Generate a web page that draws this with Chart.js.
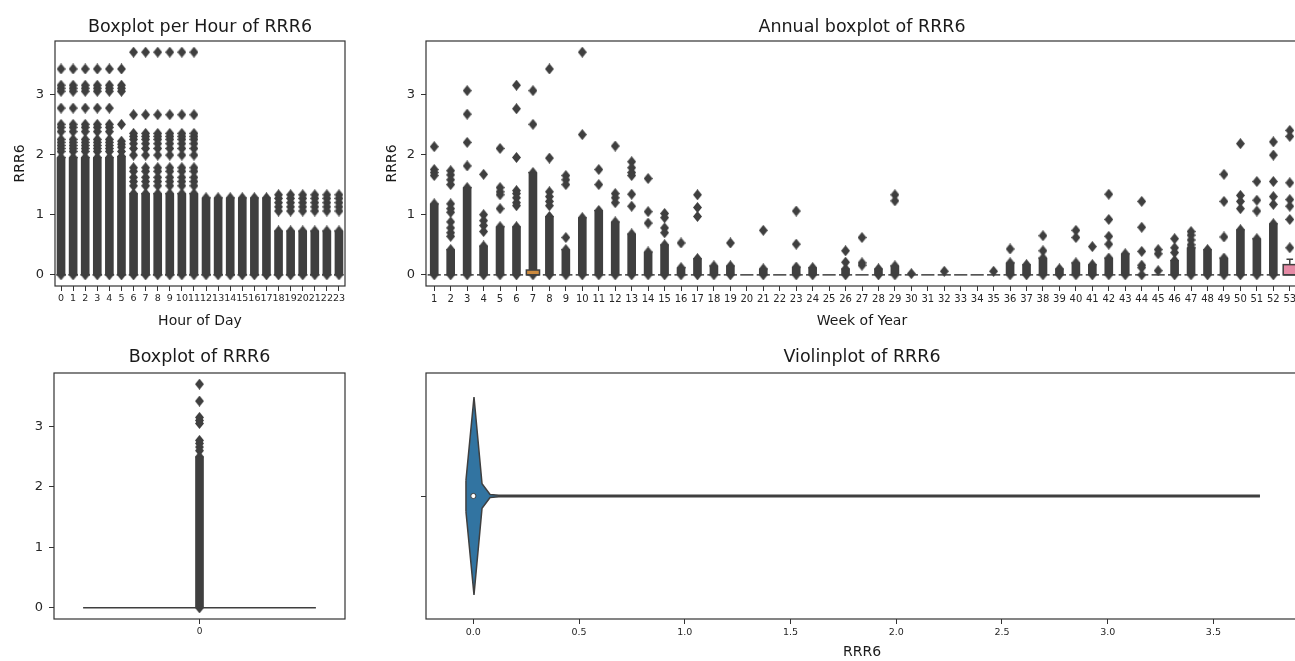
<!DOCTYPE html>
<html>
<head>
<meta charset="utf-8">
<script src="https://cdn.jsdelivr.net/npm/chart.js@4.4.1/dist/chart.umd.min.js"></script>
<style>
  html, body { margin: 0; padding: 0; background: #fff; overflow: hidden; }
  #wrap { position: relative; width: 1295px; height: 661px; overflow: hidden; }
  #wrap canvas { position: absolute; left: 0; top: 0; }
</style>
</head>
<body>
<div id="wrap">
  <canvas id="hourChart" width="1320" height="661"></canvas>
  <canvas id="weekChart" width="1320" height="661"></canvas>
  <canvas id="allChart" width="1320" height="661"></canvas>
  <canvas id="violinChart" width="1320" height="661"></canvas>
</div>
<script>
/* ---- data ---- */
const yTicks = [0, 1, 2, 3];

const hours = ['0','1','2','3','4','5','6','7','8','9','10','11','12','13','14','15','16','17','18','19','20','21','22','23'];
// top of the solid run of fliers starting at 0
const hourDenseTop = [1.95, 1.95, 1.95, 1.95, 1.95, 1.97, 1.35, 1.35, 1.35, 1.35, 1.35, 1.35,
                      1.28, 1.28, 1.28, 1.28, 1.28, 1.28, 0.73, 0.73, 0.73, 0.73, 0.73, 0.73];
const hourOutliers = [
  [3.42, 3.15, 3.1, 3.05, 2.77, 2.5, 2.45, 2.38, 2.25, 2.2, 2.15, 2.1, 2.05],
  [3.42, 3.15, 3.1, 3.05, 2.77, 2.5, 2.45, 2.38, 2.25, 2.2, 2.15, 2.1, 2.05],
  [3.42, 3.15, 3.1, 3.05, 2.77, 2.5, 2.45, 2.38, 2.25, 2.2, 2.15, 2.1, 2.05],
  [3.42, 3.15, 3.1, 3.05, 2.77, 2.5, 2.45, 2.38, 2.25, 2.2, 2.15, 2.1, 2.05],
  [3.42, 3.15, 3.1, 3.05, 2.77, 2.5, 2.45, 2.38, 2.25, 2.2, 2.15, 2.1, 2.05],
  [3.42, 3.15, 3.1, 3.05, 2.5, 2.22, 2.17, 2.12, 2.05],
  [3.7, 2.66, 2.35, 2.3, 2.25, 2.18, 2.1, 1.99, 1.78, 1.72, 1.62, 1.55, 1.48],
  [3.7, 2.66, 2.35, 2.3, 2.25, 2.18, 2.1, 1.99, 1.78, 1.72, 1.62, 1.55, 1.48],
  [3.7, 2.66, 2.35, 2.3, 2.25, 2.18, 2.1, 1.99, 1.78, 1.72, 1.62, 1.55, 1.48],
  [3.7, 2.66, 2.35, 2.3, 2.25, 2.18, 2.1, 1.99, 1.78, 1.72, 1.62, 1.55, 1.48],
  [3.7, 2.66, 2.35, 2.3, 2.25, 2.18, 2.1, 1.99, 1.78, 1.72, 1.62, 1.55, 1.48],
  [3.7, 2.66, 2.35, 2.3, 2.25, 2.18, 2.1, 1.99, 1.78, 1.72, 1.62, 1.55, 1.48],
  [], [], [], [], [], [],
  [1.33, 1.27, 1.2, 1.13, 1.06],
  [1.33, 1.27, 1.2, 1.13, 1.06],
  [1.33, 1.27, 1.2, 1.13, 1.06],
  [1.33, 1.27, 1.2, 1.13, 1.06],
  [1.33, 1.27, 1.2, 1.13, 1.06],
  [1.33, 1.27, 1.2, 1.13, 1.06],
];
const hourQ1     = [0,0,0,0,0,0,0,0,0,0,0,0,0,0,0,0,0,0,0,0,0,0,0,0];
const hourMedian = [0,0,0,0,0,0,0,0,0,0,0,0,0,0,0,0,0,0,0,0,0,0,0,0];
const hourQ3     = [0,0,0,0,0,0,0,0,0,0,0,0,0,0,0,0,0,0,0,0,0,0,0,0];
const hourWhisker = [0,0,0,0,0,0,0,0,0,0,0,0,0,0,0,0,0,0,0,0,0,0,0,0];

const weeks = ['1','2','3','4','5','6','7','8','9','10','11','12','13','14','15','16','17','18','19','20',
               '21','22','23','24','25','26','27','28','29','30','31','32','33','34','35','36','37','38','39','40',
               '41','42','43','44','45','46','47','48','49','50','51','52','53'];
const weekDenseTop = [1.18, 0.42, 1.45, 0.48, 0.8, 0.8, 1.7, 0.97, 0.42, 0.95,
                      1.07, 0.88, 0.68, 0.38, 0.5, 0.12, 0.27, 0.15, 0.15, null,
                      0.1, null, 0.13, 0.12, null, 0.1, null, 0.1, 0.15, null,
                      null, null, null, null, null, 0.2, 0.17, 0.28, 0.1, 0.2,
                      0.17, 0.28, 0.35, null, null, 0.24, 0.45, 0.42, 0.28, 0.75,
                      0.6, 0.85, null];
const weekOutliers = [
  [2.13, 1.75, 1.7, 1.65],
  [1.73, 1.66, 1.58, 1.5, 1.18, 1.1, 1.04, 0.88, 0.78, 0.7, 0.64],
  [3.06, 2.67, 2.2, 1.81],
  [1.67, 1.0, 0.9, 0.82, 0.72],
  [2.1, 1.45, 1.38, 1.33, 1.1],
  [3.15, 2.76, 1.95, 1.4, 1.35, 1.28, 1.2, 1.15],
  [3.06, 2.5],
  [3.42, 1.94, 1.38, 1.3, 1.22, 1.15],
  [1.65, 1.58, 1.5, 0.62],
  [3.7, 2.33],
  [1.75, 1.5],
  [2.14, 1.35, 1.28, 1.2],
  [1.88, 1.78, 1.7, 1.65, 1.34, 1.14],
  [1.6, 1.05, 0.86],
  [1.02, 0.95, 0.78, 0.7],
  [0.53],
  [1.33, 1.12, 0.97],
  [],
  [0.53],
  [],
  [0.74],
  [],
  [1.06, 0.51],
  [],
  [],
  [0.4, 0.21],
  [0.62, 0.2, 0.16],
  [],
  [1.33, 1.23],
  [0.02],
  [],
  [0.06],
  [],
  [],
  [0.06],
  [0.43],
  [],
  [0.65, 0.4],
  [],
  [0.74, 0.62],
  [0.47],
  [1.34, 0.92, 0.64, 0.51],
  [],
  [1.22, 0.79, 0.39, 0.16, 0.12, 0.0],
  [0.42, 0.35, 0.07],
  [0.6, 0.45, 0.37],
  [0.72, 0.66, 0.58, 0.5],
  [],
  [1.67, 1.22, 0.63],
  [2.18, 1.32, 1.22, 1.1],
  [1.55, 1.24, 1.06],
  [2.21, 1.99, 1.55, 1.3, 1.17],
  [2.4, 2.3, 1.53, 1.25, 1.14, 0.92, 0.45],
];
const weekQ1     = [0,0,0,0,0,0,0,0,0,0,0,0,0,0,0,0,0,0,0,0,0,0,0,0,0,0,0,0,0,0,0,0,0,0,0,0,0,0,0,0,0,0,0,0,0,0,0,0,0,0,0,0,0];
const weekMedian = [0,0,0,0,0,0,0,0,0,0,0,0,0,0,0,0,0,0,0,0,0,0,0,0,0,0,0,0,0,0,0,0,0,0,0,0,0,0,0,0,0,0,0,0,0,0,0,0,0,0,0,0,0];
const weekQ3     = [0,0,0,0,0,0,0.08,0,0,0,0,0,0,0,0,0,0,0,0,0,0,0,0,0,0,0,0,0,0,0,0,0,0,0,0,0,0,0,0,0,0,0,0,0,0,0,0,0,0,0,0,0,0.17];
const weekWhisker = [0,0,0,0,0,0,0,0,0,0,0,0,0,0,0,0,0,0,0,0,0,0,0,0,0,0,0,0,0,0,0,0,0,0,0,0,0,0,0,0,0,0,0,0,0,0,0,0,0,0,0,0,0.26];

const allLabels = ['0'];
const allDenseTop = [2.5];
const allOutliers = [[3.7, 3.42, 3.15, 3.1, 3.05, 2.77, 2.72, 2.66, 2.6]];
const allQ1 = [0], allMedian = [0], allQ3 = [0], allWhisker = [0];

const violinTicks = [0, 0.5, 1.0, 1.5, 2.0, 2.5, 3.0, 3.5];
const violinX    = [-0.035, 0.003, 0.041, 0.079, 0.12, 3.72];
const violinHalf = [0.064, 0.402, 0.05, 0.006, 0.003, 0.003];
const violinMedian = 0.0;

/* ---- styling ---- */
const W = 1320, H = 661;
const INK = '#3f3f3f';
const FRAME = '#333333';
const TITLE_SIZE = 17.5;
const AXIS_SIZE = 14;
const BOX_FILLS = { 6: '#cc8a3e', 52: '#e58aa5' };   // week 7 and week 53 boxes

Chart.defaults.font.family = '"DejaVu Sans", sans-serif';
Chart.defaults.color = '#262626';
Chart.defaults.animation = false;

// matplotlib-like thin diamond flier marker
const diamond = (() => {
  const c = document.createElement('canvas');
  c.width = 9; c.height = 11;
  const g = c.getContext('2d');
  g.fillStyle = INK;
  g.beginPath();
  g.moveTo(4.5, 0); g.lineTo(9, 5.5); g.lineTo(4.5, 11); g.lineTo(0, 5.5);
  g.closePath(); g.fill();
  return c;
})();

const framePlugin = {
  id: 'frame',
  afterDraw(chart) {
    const { ctx, chartArea: a } = chart;
    ctx.save();
    ctx.strokeStyle = FRAME;
    ctx.lineWidth = 1.2;
    ctx.strokeRect(a.left, a.top, a.right - a.left, a.bottom - a.top);
    ctx.restore();
  },
};

// box, whisker and median per category, drawn with the chart's own scales
const boxPlugin = {
  id: 'boxes',
  afterDatasetsDraw(chart, args, o) {
    if (!o || !o.q3) return;
    const { ctx } = chart;
    const xs = chart.scales.x, ys = chart.scales.y;
    const w = 0.8 * (xs.getPixelForValue(1) - xs.getPixelForValue(0));
    ctx.save();
    ctx.strokeStyle = INK;
    ctx.lineWidth = 1.5;
    o.q3.forEach((q3, i) => {
      const cx = xs.getPixelForValue(i);
      const top = ys.getPixelForValue(q3);
      const bot = ys.getPixelForValue(o.q1[i]);
      if (o.whisker[i] > q3) {
        const wy = ys.getPixelForValue(o.whisker[i]);
        ctx.beginPath();
        ctx.moveTo(cx, top); ctx.lineTo(cx, wy);
        ctx.moveTo(cx - w / 4, wy); ctx.lineTo(cx + w / 4, wy);
        ctx.stroke();
      }
      if (bot - top > 0.5) {
        ctx.fillStyle = (o.fills && o.fills[i]) || '#888';
        ctx.fillRect(cx - w / 2, top, w, bot - top);
        ctx.strokeRect(cx - w / 2, top, w, bot - top);
      }
      const my = ys.getPixelForValue(o.median[i]);
      ctx.beginPath();
      ctx.moveTo(cx - w / 2, my); ctx.lineTo(cx + w / 2, my);
      ctx.stroke();
    });
    ctx.restore();
  },
};

const layoutFor = (a) => {
  const tLine = TITLE_SIZE * 1.2, aLine = AXIS_SIZE * 1.2;
  const top = a.titleY - tLine / 2;
  const left = a.yTitleX ? a.yTitleX - aLine / 2 : a.left - 44;
  const xBottom = a.xTitleY ? a.xTitleY + aLine / 2 : a.bottom + 30;
  return {
    padding: { top, left, right: W - a.right, bottom: H - xBottom },
    titleGap: a.top - top - tLine,
    yWidth: a.left - left,
    xHeight: xBottom - a.bottom,
  };
};

const tickGrid = { display: true, drawOnChartArea: false, drawTicks: true, tickLength: 5, color: FRAME, tickWidth: 1 };

const titleOpts = (text, gap) => ({
  display: true, text, fullSize: false, color: '#1a1a1a',
  font: { size: TITLE_SIZE, weight: 'normal' },
  padding: { top: 0, bottom: gap },
});

const axisTitle = (text) => ({
  display: !!text, text: text || '', color: '#1a1a1a',
  font: { size: AXIS_SIZE }, padding: { top: 0, bottom: 0 },
});

const makeBoxChart = (canvasId, cfg) => {
  const L = layoutFor(cfg.area);
  const fliers = [];
  cfg.labels.forEach((lab, i) => {
    const vals = cfg.outliers[i].slice();
    if (cfg.denseTop[i] != null) vals.push(0, cfg.denseTop[i]);
    vals.forEach((v) => fliers.push({ x: lab, y: v }));
  });

  return new Chart(document.getElementById(canvasId), {
    type: 'bar',
    data: {
      labels: cfg.labels,
      datasets: [
        {
          type: 'bar',
          data: cfg.denseTop.map((t) => (t == null ? null : [0, t])),
          backgroundColor: INK,
          borderWidth: 0,
          barThickness: 8,
        },
        {
          type: 'line',
          data: fliers,
          showLine: false,
          pointStyle: diamond,
          pointRadius: 5,
          borderColor: INK,
          backgroundColor: INK,
        },
      ],
    },
    options: {
      responsive: false,
      devicePixelRatio: 1,
      layout: { padding: L.padding },
      plugins: {
        legend: { display: false },
        tooltip: { enabled: false },
        title: titleOpts(cfg.title, L.titleGap),
        boxes: { q1: cfg.q1, median: cfg.median, q3: cfg.q3, whisker: cfg.whisker, fills: cfg.fills },
      },
      scales: {
        x: {
          type: 'category',
          offset: true,
          grid: { ...tickGrid, offset: false },
          border: { display: false },
          ticks: { autoSkip: false, maxRotation: 0, minRotation: 0, padding: 2, color: '#262626', font: { size: cfg.xTickSize } },
          title: axisTitle(cfg.xTitle),
          afterFit: (s) => { s.height = L.xHeight; },
        },
        y: {
          type: 'linear',
          min: -0.185,
          max: 3.885,
          grid: tickGrid,
          border: { display: false },
          ticks: { padding: 6, color: '#262626', font: { size: 13 } },
          title: axisTitle(cfg.yTitle),
          afterBuildTicks: (s) => { s.ticks = yTicks.map((v) => ({ value: v })); },
          afterFit: (s) => { s.width = L.yWidth; },
        },
      },
    },
    plugins: [boxPlugin, framePlugin],
  });
};

makeBoxChart('hourChart', {
  labels: hours, denseTop: hourDenseTop, outliers: hourOutliers,
  q1: hourQ1, median: hourMedian, q3: hourQ3, whisker: hourWhisker,
  title: 'Boxplot per Hour of RRR6', xTitle: 'Hour of Day', yTitle: 'RRR6', xTickSize: 9.5,
  area: { left: 55, right: 345, top: 41, bottom: 286, titleY: 27, xTitleY: 321, yTitleX: 20 },
});

makeBoxChart('weekChart', {
  labels: weeks, denseTop: weekDenseTop, outliers: weekOutliers,
  q1: weekQ1, median: weekMedian, q3: weekQ3, whisker: weekWhisker, fills: BOX_FILLS,
  title: 'Annual boxplot of RRR6', xTitle: 'Week of Year', yTitle: 'RRR6', xTickSize: 10,
  area: { left: 426, right: 1298, top: 41, bottom: 286, titleY: 27, xTitleY: 321, yTitleX: 392 },
});

makeBoxChart('allChart', {
  labels: allLabels, denseTop: allDenseTop, outliers: allOutliers,
  q1: allQ1, median: allMedian, q3: allQ3, whisker: allWhisker,
  title: 'Boxplot of RRR6', xTitle: null, yTitle: null, xTickSize: 9,
  area: { left: 54, right: 345, top: 373, bottom: 619, titleY: 357, xTitleY: null, yTitleX: null },
});

/* ---- violin ---- */
(() => {
  const L = layoutFor({ left: 426, right: 1298, top: 373, bottom: 619, titleY: 357, xTitleY: 652, yTitleX: null });
  const upper = violinX.map((x, i) => ({ x, y: violinHalf[i] }));
  const lower = violinX.map((x, i) => ({ x, y: -violinHalf[i] }));
  const leftEdge = [{ x: violinX[0], y: violinHalf[0] }, { x: violinX[0], y: -violinHalf[0] }];

  new Chart(document.getElementById('violinChart'), {
    type: 'line',
    data: {
      datasets: [
        { data: upper, borderColor: INK, borderWidth: 1.5, backgroundColor: '#3274a1', fill: '+1', pointRadius: 0, tension: 0 },
        { data: lower, borderColor: INK, borderWidth: 1.5, fill: false, pointRadius: 0, tension: 0 },
        { data: leftEdge, borderColor: INK, borderWidth: 1.5, fill: false, pointRadius: 0 },
        { data: [{ x: violinMedian, y: 0 }], showLine: false, pointRadius: 2.6, pointBackgroundColor: '#ffffff',
          pointBorderColor: INK, pointBorderWidth: 1 },
      ],
    },
    options: {
      responsive: false,
      devicePixelRatio: 1,
      layout: { padding: L.padding },
      plugins: {
        legend: { display: false },
        tooltip: { enabled: false },
        filler: { drawTime: 'beforeDatasetsDraw' },
        title: titleOpts('Violinplot of RRR6', L.titleGap),
      },
      scales: {
        x: {
          type: 'linear',
          min: -0.224,
          max: 3.9,
          grid: tickGrid,
          border: { display: false },
          ticks: { padding: 3, color: '#262626', font: { size: 9.5 }, callback: (v) => Number(v).toFixed(1) },
          title: axisTitle('RRR6'),
          afterBuildTicks: (s) => { s.ticks = violinTicks.map((v) => ({ value: v })); },
          afterFit: (s) => { s.height = L.xHeight; },
        },
        y: {
          type: 'linear',
          min: -0.5,
          max: 0.5,
          grid: tickGrid,
          border: { display: false },
          ticks: { callback: () => '' },
          afterBuildTicks: (s) => { s.ticks = [{ value: 0 }]; },
          afterFit: (s) => { s.width = L.yWidth; },
        },
      },
    },
    plugins: [framePlugin],
  });
})();
</script>
</body>
</html>
